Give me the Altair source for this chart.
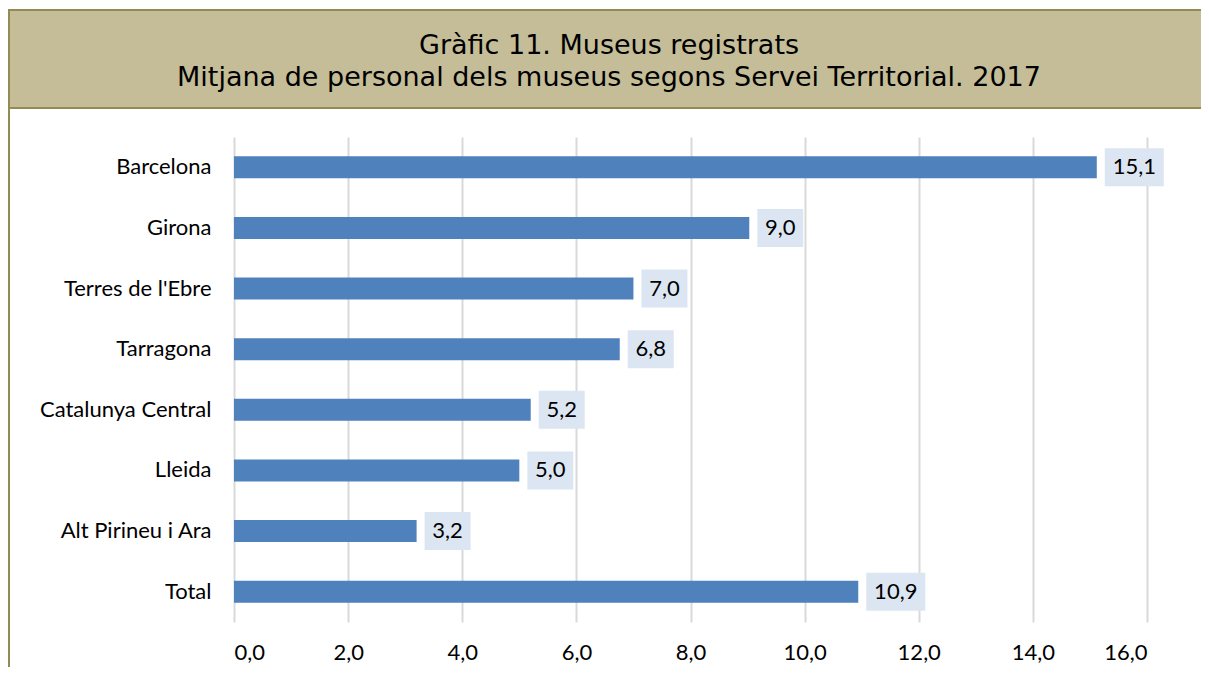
import altair as alt
import pandas as pd

categories = ["Barcelona", "Girona", "Terres de l'Ebre", "Tarragona",
              "Catalunya Central", "Lleida", "Alt Pirineu i Ara", "Total"]
values = [15.12, 9.03, 7.0, 6.76, 5.2, 5.0, 3.2, 10.94]
x_ticks = [0, 2, 4, 6, 8, 10, 12, 14, 16]
title_lines = ["Gràfic 11. Museus registrats",
               "Mitjana de personal dels museus segons Servei Territorial. 2017"]

df = pd.DataFrame({"cat": categories, "v": values})

W, H = 913, 485
PAD = {"left": 226, "top": 129, "right": 54, "bottom": 45}

LABEL_FONT = "Lato"
LABEL_SIZE = 22
FMT = "replace(format(datum.v, '.1f'), '.', ',')"

base = alt.Chart(df).transform_calculate(label=FMT)

y_enc = alt.Y("cat:N", sort=categories,
              scale=alt.Scale(paddingInner=0.64, paddingOuter=0.32),
              axis=alt.Axis(title=None, domain=False, ticks=False, grid=False,
                            labelPadding=23, labelFont=LABEL_FONT, labelFontSize=LABEL_SIZE,
                            labelColor="#000000"))
x_enc = alt.X("v:Q", scale=alt.Scale(domain=[0, 16], nice=False),
              axis=alt.Axis(title=None, values=x_ticks, domain=False, ticks=False,
                            grid=True, gridColor="#D9D9D9", gridWidth=2,
                            labelPadding=20, labelFont=LABEL_FONT, labelFontSize=LABEL_SIZE,
                            labelColor="#000000",
                            labelExpr="replace(format(datum.value, '.1f'), '.', ',')"))

bars = base.mark_bar(color="#4F81BD", height=22).encode(y=y_enc, x=x_enc)

boxes = base.mark_bar(color="#DCE6F2", height=38, xOffset=8,
                      x2Offset=alt.ExprRef("8 + 7 + 13 * length(datum.label)")).encode(
    y=alt.Y("cat:N", sort=categories), x="v:Q", x2="v:Q")

texts = base.mark_text(align="center", baseline="middle", font=LABEL_FONT, fontSize=LABEL_SIZE,
                       color="#000000",
                       dx=alt.ExprRef("8 + (7 + 13 * length(datum.label)) / 2")).encode(
    y=alt.Y("cat:N", sort=categories), x="v:Q", text="label:N")

deco = alt.Chart(pd.DataFrame({"d": [0]}))
band = deco.mark_rect(fill="#C4BD97", stroke="#948A54", strokeWidth=2).encode(
    x=alt.value(-225), x2=alt.value(W + PAD["right"] + 5),
    y=alt.value(-127), y2=alt.value(-29))
frame_left = deco.mark_rule(color="#948A54", strokeWidth=2).encode(
    x=alt.value(-225), y=alt.value(-128), y2=alt.value(H + PAD["bottom"]))

TITLE_X = 375
TITLE_SIZE = 27
title1 = deco.mark_text(font="DejaVu Sans", fontSize=TITLE_SIZE, color="#000000",
                        align="center", baseline="alphabetic").encode(
    x=alt.value(TITLE_X), y=alt.value(-83), text=alt.value(title_lines[0]))
title2 = deco.mark_text(font="DejaVu Sans", fontSize=TITLE_SIZE, color="#000000",
                        align="center", baseline="alphabetic").encode(
    x=alt.value(TITLE_X), y=alt.value(-51), text=alt.value(title_lines[1]))

chart = alt.layer(band, frame_left, title1, title2, bars, boxes, texts).properties(
    width=W, height=H,
    padding=PAD,
    autosize="none",
    background="#FFFFFF",
).configure_view(stroke=None)

chart.save("out.html", embed_options={"renderer": "svg", "actions": False})
